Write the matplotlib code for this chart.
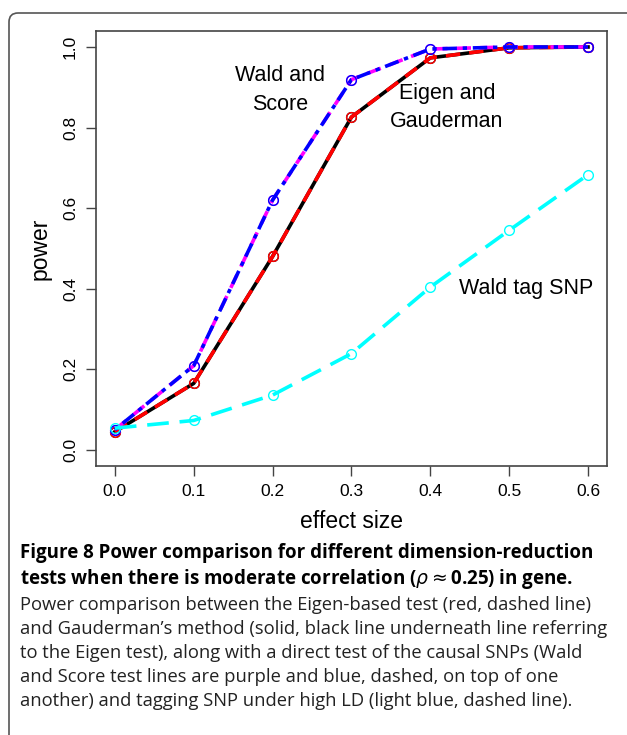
import numpy as np
import matplotlib
matplotlib.use('Agg')
import matplotlib.pyplot as plt
from matplotlib.patches import FancyBboxPatch

effect = [0.0, 0.1, 0.2, 0.3, 0.4, 0.5, 0.6]
wald = [0.050, 0.209, 0.620, 0.919, 0.995, 1.000, 1.000]
score = [0.050, 0.209, 0.620, 0.919, 0.995, 1.000, 1.000]
gauderman = [0.045, 0.165, 0.480, 0.826, 0.973, 0.998, 1.000]
eigen = [0.045, 0.165, 0.480, 0.826, 0.973, 0.998, 1.000]
tag_snp = [0.054, 0.073, 0.136, 0.239, 0.404, 0.545, 0.683]
xticks = [0.0, 0.1, 0.2, 0.3, 0.4, 0.5, 0.6]
yticks = [0.0, 0.2, 0.4, 0.6, 0.8, 1.0]

plt.rcParams['font.family'] = ['Liberation Sans', 'DejaVu Sans']

fig = plt.figure(figsize=(6.27, 7.35), dpi=100)
ax = fig.add_axes([0.153, 0.366, 0.815, 0.592])

# frame round the figure panel
frame = FancyBboxPatch((9, -30), 700, 735 - 13 + 30,
                       boxstyle="round,pad=0,rounding_size=9",
                       transform=None, fill=False, ec='#555555', lw=1.2,
                       clip_on=False)
fig.patches.append(frame)

lw = 2.6
ms = 7
mk = dict(marker='o', markersize=ms, markerfacecolor='none', markeredgewidth=1.0)

ax.plot(effect, gauderman, color='black', lw=lw, ls='-', markeredgecolor='black', **mk)
ax.plot(effect, eigen, color='red', lw=lw, ls=(0, (4, 2.5)), markeredgecolor='red', **mk)
ax.plot(effect, score, color='magenta', lw=lw, ls=(0, (4, 2.5)), markeredgecolor='magenta', **mk)
ax.plot(effect, wald, color='blue', lw=lw, ls=(0, (1.2, 1.6, 4, 1.6)), markeredgecolor='blue', **mk)
ax.plot(effect, tag_snp, color='cyan', lw=lw, ls=(0, (6, 3)), markeredgecolor='cyan', **mk)

ax.text(0.21, 0.893, "Wald and\nScore", ha='center', va='center', fontsize=15.5, linespacing=1.45)
ax.text(0.421, 0.85, "Eigen and\nGauderman", ha='center', va='center', fontsize=15.5, linespacing=1.45)
ax.text(0.436, 0.40, "Wald tag SNP", ha='left', va='center', fontsize=15.5)

ax.set_xlim(-0.024, 0.624)
ax.set_ylim(-0.04, 1.04)
ax.set_xticks(xticks)
ax.set_xticklabels(['%.1f' % v for v in xticks])
ax.set_yticks(yticks)
ax.set_yticklabels(['%.1f' % v for v in yticks], rotation=90, va='center')
ax.tick_params(direction='out', length=7, width=1.0, color='#444444', labelsize=12.5, pad=6)
for s in ax.spines.values():
    s.set_color('#444444')
    s.set_linewidth(1.2)

ax.set_xlabel("effect size", fontsize=16.5, labelpad=8)
ax.set_ylabel("power", fontsize=16.5, labelpad=8)

cap_font = ['Open Sans', 'DejaVu Sans']
fig.text(20 / 627, 1 - 553 / 735, "Figure 8 Power comparison for different dimension-reduction",
         fontsize=13.5, fontweight='bold', family=cap_font, va='center', ha='left')
fig.text(20 / 627, 1 - 579 / 735, r"tests when there is moderate correlation ($\rho \approx$0.25) in gene.",
         fontsize=13.5, fontweight='bold', family=cap_font, va='center', ha='left')
body = ["Power comparison between the Eigen-based test (red, dashed line)",
        "and Gauderman\u2019s method (solid, black line underneath line referring",
        "to the Eigen test), along with a direct test of the causal SNPs (Wald",
        "and Score test lines are purple and blue, dashed, on top of one",
        "another) and tagging SNP under high LD (light blue, dashed line)."]
for i, line in enumerate(body):
    fig.text(20 / 627, 1 - (605 + 24 * i) / 735, line, fontsize=13.2,
             family=cap_font, va='center', ha='left', color='#222222')

plt.savefig('out.png', dpi=100)
